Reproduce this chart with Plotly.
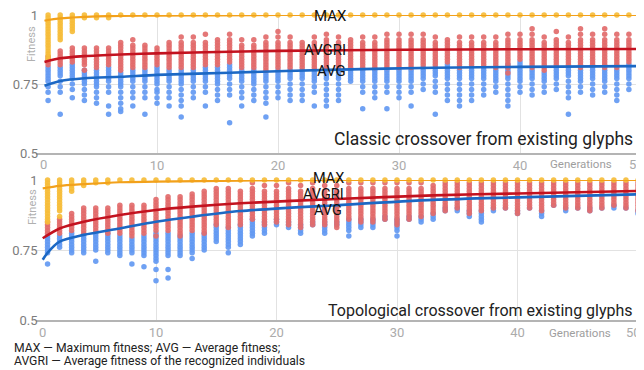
import plotly.graph_objects as go

# ---------------- data (fitness values written in hundredths) ----------------
GENS = list(range(1, 51))

TOP_MAX = ["84 85 86 87 88 89 90 91 92 93 94 95 96 97 98 99 100",
           "91 92 93 94 95 96 97 98 99 100",
           "94 95 96 97 98 99 100",
           "99 100", "99 100", "99 100"] + ["100"] * 44

TOP_AVGRI = [
    "82 83 84 85", "82 83 84 85 86 87", "83 84 85 86 87 88", "80 82 83 84 85 86 87 88",
    "81 82 83 84 85 86 87 88", "82 83 84 85 86 87 88", "80 81 82 83 84 85 86 87 88 89 90",
    "81 82 83 84 85 86 87 88 89 91", "81 82 83 84 85 86 87 88 89", "82 83 84 85 86 87 88",
    "81 82 83 84 85 86 87 88 89 90", "81 82 83 84 85 86 87 88 89 90 92",
    "81 82 83 84 85 86 87 88 89 90 92", "82 83 84 85 86 87 88 89 90 93",
    "82 83 84 85 86 87 88 89 90 91", "83 84 85 86 87 88 89 90 91 93",
    "81 82 83 84 85 86 87 88 89 91", "81 82 83 84 85 86 87 88 89 91",
    "80 81 82 83 84 85 86 87 88 89 90 92", "81 82 83 84 85 86 87 88 89 90 92 94",
    "81 82 83 84 85 86 87 88 89 90 92", "81 82 83 84 85 86 87 88 89 90",
    "81 82 83 84 85 86 87 88 89 90 92", "81 82 83 84 85 86 87 88 89 90 91 93",
    "81 82 83 84 85 86 87 88 89 90 92", "81 82 83 84 85 86 87 88 89 90 91",
    "81 82 83 84 85 86 87 88 89 90 92", "81 82 83 84 85 86 87 88 89 90 92",
    "81 82 83 84 85 86 87 88 89 90 91 93", "81 82 83 84 85 86 87 88 89 90 91 93",
    "81 82 83 84 85 86 87 88 89 90 91 93", "82 83 84 85 86 87 88 89 90 91 93",
    "82 83 84 85 86 87 88 89 90 92", "83 84 85 86 87 88 89 90 91",
    "81 82 83 84 85 86 87 88 89 90 92", "82 83 84 85 86 87 88 89 90 92",
    "82 83 84 85 86 87 88 89 90 92", "81 82 83 84 85 86 87 88 89 90 92",
    "79 81 82 83 84 85 86 87 88 89 90 91 93", "84 85 86 87 88 89 90 91 93",
    "81 82 83 84 85 86 87 88 89 90 91 93 95", "80 81 82 83 84 85 86 87 88 89 90 92",
    "82 83 84 85 86 87 88 89 90 91 94", "82 83 84 85 86 87 88 89 90 92",
    "81 82 83 84 85 86 87 88 89 90 91 93 95", "82 83 84 85 86 87 88 89 90 91 93",
    "81 82 83 84 85 86 87 88 89 90 91 93 95", "81 82 83 84 85 86 87 88 89 90 91 93",
    "83 84 85 86 87 88 89 90 91 93", "84 85 86 87 88 89 90 91 93"]

TOP_AVG = [
    "69 72 74 76 77 78 79 80 81", "64 72 74 76 78 79 80 81", "70 73 75 77 78 79 80 81 82",
    "69 71 73 75 76 77 78 79 80", "68 70 72 74 75 76 77 78 79 80", "64 67 72 74 76 77 78 79 80 81",
    "65 66 68 70 72 74 75 76 77 78 79", "67 70 72 74 76 77 78 79 80", "64 70 72 74 76 77 78 79 80",
    "68 70 72 73 75 76 77 78 79 80 81", "67 70 72 74 76 77 78 79 80",
    "63 67 69 71 73 75 76 77 78 79 80", "70 72 74 76 77 78 79 80", "67 72 74 76 77 78 79 80 81",
    "69 71 73 75 76 77 78 79 80 81", "61 71 73 75 77 78 79 80 81 82", "67 70 72 74 76 77 78 79 80",
    "69 71 73 75 76 77 78 79 80", "63 68 70 72 74 76 77 78 79", "70 72 74 76 77 78 79 80",
    "69 71 73 75 77 78 79 80", "69 71 73 75 77 78 79 80", "67 72 74 76 77 78 79 80",
    "67 69 71 73 75 77 78 79 80", "69 71 73 75 77 78 79 80", "76 77 78 79 80",
    "66 72 74 76 77 78 79 80", "70 72 74 76 77 78 79 80", "66 72 74 76 77 78 79 80",
    "70 72 74 76 77 78 79 80", "67 72 74 76 77 78 79 80", "73 75 77 78 79 80 81",
    "64 72 74 76 78 79 80 81", "69 71 73 75 77 78 79 80 81 82", "67 69 71 73 75 77 78 79 80",
    "69 71 73 75 77 78 79 80 81", "71 73 75 77 78 79 80 81", "72 74 76 77 78 79 80",
    "67 69 71 73 75 77 78 79 80 81 82", "72 74 76 77 78 79 80 81 82 83", "71 73 75 77 78 79 80",
    "72 74 76 77 78 79", "73 75 77 78 79 80 81", "64 70 72 74 76 78 79 80 81",
    "72 74 76 77 78 79 80", "71 73 75 77 78 79 80 81", "72 74 76 77 78 79 80",
    "69 71 73 75 77 78 79 80", "73 75 77 78 79 80 81 82", "70 72 74 76 78 79 80 81 82 83"]

BOT_MAX = ["85 86 87 88 89 90 91 92 93 94 95 96 97 98 99 100",
           "87 89 90 91 92 93 94 95 96 97 98 99 100",
           "96 97 98 99 100", "98 99 100", "99 100", "99 100"] + ["100"] * 44

BOT_AVGRI = [
    "81 82 83 84 85", "81 82 83 84 85 86", "82 83 84 85 86 87 88", "81 82 83 84 85 86 87 88 89 90",
    "82 83 84 85 86 87 88 89 90", "81 82 83 84 85 86 87 88 89 90",
    "81 82 83 84 85 86 87 88 89 90 91", "80 81 82 83 84 85 86 87 88 89 90 91",
    "81 82 83 84 85 86 87 88 89 90 91", "80 82 83 84 85 86 87 88 89 90 91 92 93",
    "82 83 84 85 86 87 88 89 90 91 92 93 94", "80 81 82 83 84 85 86 87 88 89 90 91 92 93 94",
    "82 83 84 85 86 87 88 89 90 91 92 93 94 95", "81 82 83 84 85 86 87 88 89 90 91 92 93 94 95 96",
    "84 85 86 87 88 89 90 91 92 93 94 95 96 97", "83 84 85 86 87 88 89 90 91 92 93 94 95 96 97",
    "84 85 86 87 88 89 90 91 92 93 94 95 96", "86 87 88 89 90 91 92 93 94 95 96 97 99",
    "84 85 86 87 88 89 90 91 92 93 94 95 96 98", "85 86 87 88 89 90 91 92 93 94 95 96 98",
    "84 85 86 87 88 89 90 91 92 93 94 95 96 97 99", "83 84 85 86 87 88 89 90 91 92 93 94 95 96 98",
    "84 85 86 87 88 89 90 91 92 93 94 95 96 97 99", "84 85 86 87 88 89 90 91 92 93 94 95 96 98",
    "83 84 85 86 87 88 89 90 91 92 93 94 95 96 98", "86 87 88 89 90 91 92 93 94 95 96 97 99",
    "85 86 87 88 89 90 91 92 93 94 95 96 97 99", "85 86 87 88 89 90 91 92 93 94 95 96 97 99",
    "86 87 88 89 90 91 92 93 94 95 96 97 99", "84 85 86 87 88 89 90 91 92 93 94 95 96 97 99",
    "86 87 88 89 90 91 92 93 94 95 96 97 99", "87 88 89 90 91 92 93 94 95 96 97 99",
    "88 89 90 91 92 93 94 95 96 97 98", "89 90 91 92 93 94 95 96 97 98 99",
    "90 91 92 93 94 95 96 97 98 99", "88 89 90 91 92 93 94 95 96 97 98 99",
    "89 90 91 92 93 94 95 96 97 98 99", "90 91 92 93 94 95 96 97 98 99",
    "90 91 92 93 94 95 96 97 98 99", "88 89 90 91 92 93 94 95 96 97 98 99",
    "90 91 92 93 94 95 96 97 98 99", "89 90 91 92 93 94 95 96 97 98 99",
    "91 92 93 94 95 96 97 98 99", "90 91 92 93 94 95 96 97 98 99",
    "90 91 92 93 94 95 96 97 98 99", "89 90 91 92 93 94 95 96 97 98 99",
    "90 91 92 93 94 95 96 97 98 99", "91 92 93 94 95 96 97 98 99",
    "90 91 92 93 94 95 96 97 98 99", "89 90 91 92 93 94 95 96 97 98 99"]

BOT_AVG = [
    "70 74 75 76 77 78 79 80", "76 77 78 79 80", "74 75 76 77 78 79 80 81", "74 75 76 77 78 79 80",
    "71 75 76 77 78 79 80 81", "74 75 76 77 78 79 80 81", "73 74 75 76 77 78 79 80",
    "70 74 75 76 77 78 79", "69 73 74 75 76 77 78 79 80", "64 68 71 72 73 74 75 76 77 78 79 80 81",
    "65 68 73 74 75 76 77 78 79 80 81", "73 74 75 76 77 78 79 80", "72 74 75 76 77 78 79 80 81",
    "75 76 77 78 79 80 81", "78 79 80 81 82 83 84", "74 76 77 78 79 80 81 82 83",
    "77 78 79 80 81 82 83 84", "80 81 82 83 84 85 86", "81 82 83 84 85", "84 85 86",
    "83 84 85", "81 82 83 84", "84 85", "81 82 83 84 85", "84 85", "80 82 83 84 85 86",
    "83 84 85 86", "83 84 85 86", "86 87", "80 82 83 84 85 86", "86 87", "85 86 87",
    "86 87 88", "89 90", "89 90", "87 88 89", "85 86 87 88 89", "89 90", "90", "88 89",
    "90", "87 88 89", "91", "89 90", "90", "89 90", "90", "90 91", "90", "88 89"]

# trend lines (generation, fitness)
TOP_MAX_LINE_X = [0.7, 1, 2, 3, 5, 7, 10, 15, 20, 30, 40, 50]
TOP_MAX_LINE_Y = [0.979, 0.982, 0.988, 0.991, 0.995, 0.997, 0.998, 0.999, 1.0, 1.0, 1.0, 1.0]
TOP_AVGRI_LINE_X = [0.7, 2, 4, 7, 10, 16, 20, 30, 40, 50]
TOP_AVGRI_LINE_Y = [0.830, 0.843, 0.851, 0.857, 0.861, 0.867, 0.870, 0.874, 0.876, 0.877]
TOP_AVG_LINE_X = [0.7, 2, 4, 7, 10, 16, 25, 33, 40, 50]
TOP_AVG_LINE_Y = [0.744, 0.761, 0.771, 0.776, 0.783, 0.791, 0.802, 0.809, 0.812, 0.815]

BOT_MAX_LINE_X = [0.6, 2, 4, 7, 10, 17, 25, 50]
BOT_MAX_LINE_Y = [0.970, 0.979, 0.985, 0.992, 0.994, 0.998, 1.0, 1.0]
BOT_AVGRI_LINE_X = [0.6, 2, 4, 7, 10, 13, 17, 25, 33, 40, 50]
BOT_AVGRI_LINE_Y = [0.792, 0.827, 0.851, 0.875, 0.893, 0.905, 0.917, 0.932, 0.945, 0.952, 0.961]
BOT_AVG_LINE_X = [0.6, 1, 2, 4, 7, 10, 13, 17, 25, 33, 40, 50]
BOT_AVG_LINE_Y = [0.715, 0.740, 0.780, 0.804, 0.827, 0.851, 0.869, 0.889, 0.910, 0.929, 0.938, 0.949]

X_GRID = [10, 20, 30, 40, 50]
X_TICK_TEXT = ["10", "20", "30", "40", ""]
X_END_TICKS = [0, 50]          # end labels drawn nudged inwards, as in the reference
Y_TICKS = [0.5, 0.75, 1]
Y_TICK_TEXT = ["0.5", "0.75", "1"]

# ---------------- styling ----------------
OFF = 8                      # page body margin in the browser
W, H = 644 - OFF, 370 - OFF  # figure size that fits the window
DOT_Y, DOT_R, DOT_B = "#F6BD3A", "#E26B6B", "#6399F2"
LINE_Y, LINE_R, LINE_B = "#F2A11B", "#C3121F", "#1C68C4"
FONT = "Roboto"
X_MAX = 50.1

fig = go.Figure()


def vals(s):
    return [int(t) / 100 for t in s.split()]


def add_cloud(cols, color, xa, ya):
    xs, ys = [], []
    for g, s in zip(GENS, cols):
        v = vals(s)
        xs += [g] * len(v)
        ys += v
    fig.add_trace(go.Scatter(x=xs, y=ys, mode="markers", xaxis=xa, yaxis=ya,
                             marker=dict(size=5.5, color=color, line_width=0, opacity=0.92),
                             cliponaxis=False, hoverinfo="skip", showlegend=False))


def add_line(x, y, color, width, xa, ya):
    fig.add_trace(go.Scatter(x=x, y=y, mode="lines", xaxis=xa, yaxis=ya,
                             line=dict(color=color, width=width, shape="spline", smoothing=0.8),
                             cliponaxis=False, hoverinfo="skip", showlegend=False))


for xa, ya, mx, ri, av, lines in [
    ("x", "y", TOP_MAX, TOP_AVGRI, TOP_AVG,
     [(TOP_AVG_LINE_X, TOP_AVG_LINE_Y, LINE_B, 2.6), (TOP_AVGRI_LINE_X, TOP_AVGRI_LINE_Y, LINE_R, 2.6),
      (TOP_MAX_LINE_X, TOP_MAX_LINE_Y, LINE_Y, 2.2)]),
    ("x2", "y2", BOT_MAX, BOT_AVGRI, BOT_AVG,
     [(BOT_AVG_LINE_X, BOT_AVG_LINE_Y, LINE_B, 2.6), (BOT_AVGRI_LINE_X, BOT_AVGRI_LINE_Y, LINE_R, 2.6),
      (BOT_MAX_LINE_X, BOT_MAX_LINE_Y, LINE_Y, 2.2)]),
]:
    add_cloud(av, DOT_B, xa, ya)
    add_cloud(ri, DOT_R, xa, ya)
    add_cloud(mx, DOT_Y, xa, ya)
    for lx, ly, c, w in lines:
        add_line(lx, ly, c, w, xa, ya)


def xaxis_cfg(x0, x50, anchor):
    x1 = x0 + (x50 - x0) * X_MAX / 50
    return dict(domain=[(x0 - OFF) / W, (x1 - OFF) / W], range=[0, X_MAX], anchor=anchor,
                tickvals=X_GRID, ticktext=X_TICK_TEXT, showgrid=True, gridcolor="#e2e2e2",
                gridwidth=1, zeroline=False, automargin=False, ticklabeloverflow="allow",
                showline=True, linecolor="#b4b4b4", linewidth=1.5, ticks="",
                tickfont=dict(family=FONT, size=13, color="#ababab"), fixedrange=True)


def yaxis_cfg(ypx_lo, ypx_hi, anchor):
    return dict(domain=[1 - (ypx_lo - OFF) / H, 1 - (ypx_hi - OFF) / H], range=[0.5, 1], anchor=anchor,
                tickvals=Y_TICKS, ticktext=Y_TICK_TEXT, showgrid=True, gridcolor="#e2e2e2",
                zeroline=False, showline=False, ticks="", automargin=False,
                ticklabelstandoff=-3, ticklabeloverflow="allow",
                tickfont=dict(family=FONT, size=13, color="#7c7c7c"), fixedrange=True)


def px(x, y):
    return (x - OFF) / W, 1 - (y - OFF) / H


annotations = []


def note(text, x, y, size, color, xanchor="center", angle=0):
    ax, ay = px(x, y)
    annotations.append(dict(text=text, x=ax, y=ay, xref="paper", yref="paper", showarrow=False,
                            xanchor=xanchor, yanchor="middle", textangle=angle, borderpad=0,
                            font=dict(family=FONT, size=size, color=color)))


# end tick labels of the x axes, placed at their axis values and nudged inwards
for xref, ypix in [("x", 164), ("x2", 332)]:
    for v, shift in zip(X_END_TICKS, [7, -5]):
        annotations.append(dict(text=str(v), x=v, xref=xref, y=1 - (ypix - OFF) / H, yref="paper",
                                xshift=shift, showarrow=False, xanchor="center", yanchor="middle",
                                borderpad=0, font=dict(family=FONT, size=13, color="#ababab")))

# series labels
note("MAX", 330, 16, 15, "#111111")
note("AVGRI", 325, 50, 15, "#111111")
note("AVG", 331, 71, 15, "#111111")
note("MAX", 328, 178, 14.5, "#111111")
note("AVGRI", 323, 194, 14.5, "#111111")
note("AVG", 328, 210, 14.5, "#111111")
# panel titles
note("Classic crossover from existing glyphs", 634, 139, 17.5, "#222222", xanchor="right")
note("Topological crossover from existing glyphs", 634, 310, 16, "#222222", xanchor="right")
# axis titles
note("Fitness", 32, 44, 11, "#b0b0b0", angle=-90)
note("Fitness", 32, 207, 11, "#b0b0b0", angle=-90)
note("Generations", 613, 164, 11.5, "#9e9e9e", xanchor="right")
note("Generations", 612, 333, 11.5, "#9e9e9e", xanchor="right")
# footer
note("MAX — Maximum fitness; AVG — Average fitness;", 13, 348, 12.2, "#222222", xanchor="left")
note("AVGRI — Average fitness of the recognized individuals", 13, 360.5, 12.2, "#222222", xanchor="left")

fig.update_layout(
    width=W, height=H, margin=dict(l=0, r=0, t=0, b=0, autoexpand=False),
    paper_bgcolor="white", plot_bgcolor="white", showlegend=False,
    xaxis=xaxis_cfg(36, 641, "y"), yaxis=yaxis_cfg(153, 15, "x"),
    xaxis2=xaxis_cfg(35.5, 638, "y2"), yaxis2=yaxis_cfg(320, 180, "x2"),
    annotations=annotations,
)

fig.write_html("out.html")
